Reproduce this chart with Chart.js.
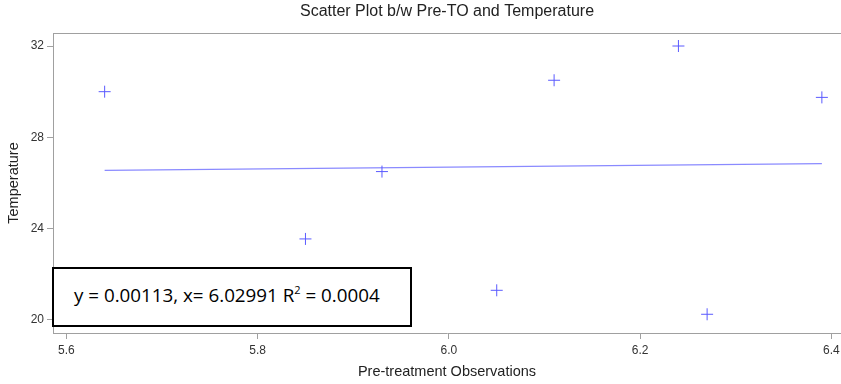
<!DOCTYPE html>
<html>
<head>
<meta charset="utf-8">
<script src="https://cdn.jsdelivr.net/npm/chart.js@4.4.0/dist/chart.umd.min.js"></script>
<style>
  html, body { margin: 0; padding: 0; background: #fff; }
  #wrap { position: relative; width: 841px; height: 384px; }
  #eqBox {
    position: absolute;
    left: 52px; top: 267px; width: 356px; height: 56px;
    border: 2px solid #000; background: #fff;
    font-family: "Open Sans", "Noto Sans", sans-serif; font-size: 18.8px; color: #000;
    box-sizing: content-box;
  }
  #eqBox span { position: absolute; left: 20px; top: 13px; white-space: nowrap; }
</style>
</head>
<body>
<div id="wrap">
  <canvas id="chart" width="841" height="384"></canvas>
  <div id="eqBox"><span>y = 0.00113, x= 6.02991 R<sup style="font-size:11px;vertical-align:8px;line-height:0">2</sup> = 0.0004</span></div>
</div>
<script>
// observations
const preTO = [5.64, 5.85, 5.93, 6.05, 6.11, 6.24, 6.27, 6.39];
const temperature = [30.0, 23.55, 26.5, 21.3, 30.5, 32.0, 20.25, 29.75];

// fitted line end points
const fitX = [5.64, 6.39];
const fitY = [26.55, 26.85];

const xTicks = [5.6, 5.8, 6.0, 6.2, 6.4];
const yTicks = [20, 24, 28, 32];

const axisGray = "#a0a0a0";
const tickFont = { family: "Liberation Sans, Arial, sans-serif", size: 12 };
const titleFont = { family: "Liberation Sans, Arial, sans-serif", size: 14.5 };

// top frame line of the plot area
const frameTop = {
  id: "frameTop",
  afterDraw(chart) {
    const { ctx, chartArea } = chart;
    ctx.save();
    ctx.strokeStyle = axisGray;
    ctx.lineWidth = 1;
    ctx.beginPath();
    ctx.moveTo(chartArea.left, chartArea.top + 0.5);
    ctx.lineTo(chartArea.right, chartArea.top + 0.5);
    ctx.stroke();
    ctx.restore();
  },
};

new Chart(document.getElementById("chart"), {
  type: "scatter",
  data: {
    datasets: [
      {
        label: "Temperature",
        data: preTO.map((x, i) => ({ x, y: temperature[i] })),
        pointStyle: "cross",
        pointRadius: 6,
        borderColor: "#5a5aff",
        borderWidth: 1,
        showLine: false,
        order: 1,
      },
      {
        label: "Fit",
        data: fitX.map((x, i) => ({ x, y: fitY[i] })),
        showLine: true,
        pointRadius: 0,
        borderColor: "#8a8aff",
        borderWidth: 1.2,
        order: 2,
      },
    ],
  },
  options: {
    responsive: false,
    animation: false,
    layout: { padding: 0, autoPadding: false },
    plugins: {
      legend: { display: false },
      tooltip: { enabled: false },
      title: {
        display: true,
        fullSize: false,
        text: "Scatter Plot b/w Pre-TO and Temperature",
        color: "#222",
        font: { family: "Liberation Sans, Arial, sans-serif", size: 16, weight: "normal" },
        padding: { top: 2.4, bottom: 11.4 },
      },
    },
    scales: {
      x: {
        type: "linear",
        min: 5.586,
        max: 6.41,
        afterBuildTicks: (s) => { s.ticks = xTicks.map((v) => ({ value: v })); },
        afterFit: (s) => {
          s.height = 51;
          s.paddingLeft = 0;
          s.paddingRight = 0;
        },
        grid: { drawOnChartArea: false, drawTicks: true, tickLength: 6, color: axisGray },
        border: { color: axisGray },
        ticks: {
          color: "#333",
          font: tickFont,
          padding: 4,
          maxRotation: 0,
          callback: (v) => v.toFixed(1),
        },
        title: {
          display: true,
          text: "Pre-treatment Observations",
          color: "#222",
          font: titleFont,
          padding: { top: 0, bottom: 3.3 },
        },
      },
      y: {
        type: "linear",
        min: 19.43,
        max: 32.57,
        afterBuildTicks: (s) => { s.ticks = yTicks.map((v) => ({ value: v })); },
        afterFit: (s) => {
          s.width = 53;
          s.paddingTop = 0;
          s.paddingBottom = 0;
        },
        grid: { drawOnChartArea: false, drawTicks: true, tickLength: 6, color: axisGray },
        border: { color: axisGray },
        ticks: { color: "#333", font: tickFont, padding: 3 },
        title: {
          display: true,
          text: "Temperature",
          color: "#222",
          font: titleFont,
          padding: { top: 5.3, bottom: 0 },
        },
      },
    },
  },
  plugins: [frameTop],
});
</script>
</body>
</html>
